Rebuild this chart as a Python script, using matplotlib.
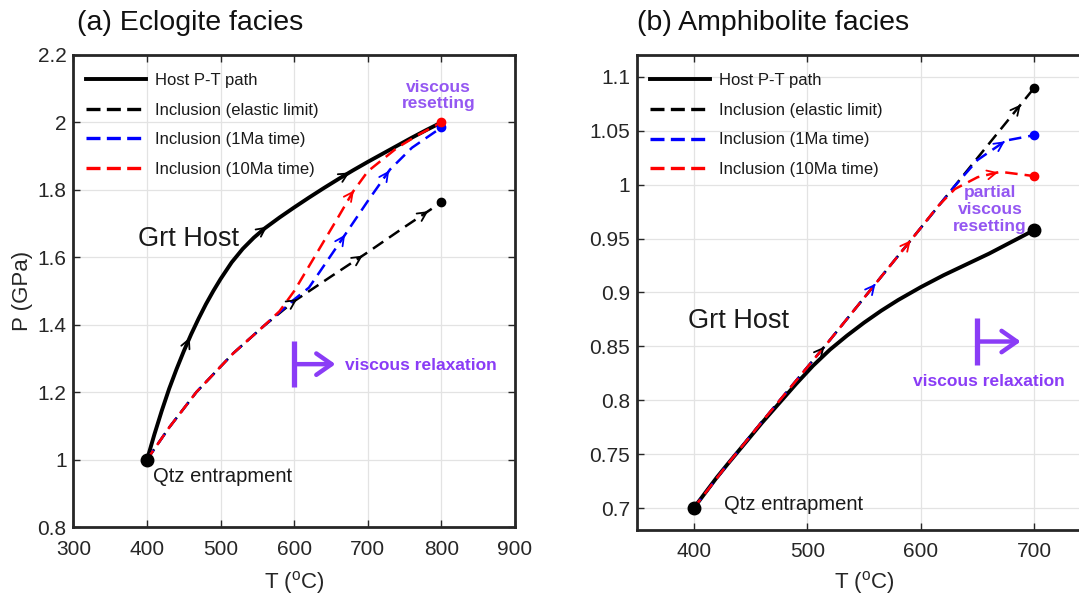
import numpy as np
import matplotlib
matplotlib.use("Agg")
import matplotlib.pyplot as plt
from matplotlib.lines import Line2D
from matplotlib.ticker import FuncFormatter

plt.rcParams["font.family"] = ["Liberation Sans", "DejaVu Sans"]
plt.rcParams["mathtext.fontset"] = "custom"
plt.rcParams["mathtext.rm"] = "Liberation Sans"

# ---------------- (a) eclogite facies ----------------
A_HOST_T = [400, 410, 420, 430, 440, 450, 460, 470, 480, 490, 500, 515, 530, 545, 560, 580,
            600, 620, 640, 660, 680, 700, 720, 740, 760, 780, 800]
A_HOST_P = [1.000, 1.075, 1.145, 1.210, 1.268, 1.322, 1.372, 1.418, 1.461, 1.500, 1.536,
            1.585, 1.625, 1.658, 1.686, 1.718, 1.748, 1.777, 1.805, 1.832, 1.858, 1.883,
            1.907, 1.931, 1.955, 1.978, 2.000]

A_ELASTIC_T = [400, 430, 467, 517, 558, 600, 650, 700, 750, 800]
A_ELASTIC_P = [1.000, 1.095, 1.200, 1.315, 1.395, 1.470, 1.543, 1.615, 1.690, 1.763]

A_1MA_T = [400, 430, 467, 517, 558, 600, 620, 645, 670, 700, 730, 760, 800]
A_1MA_P = [1.000, 1.095, 1.200, 1.315, 1.395, 1.475, 1.510, 1.590, 1.670, 1.767, 1.860, 1.925, 1.985]

A_10MA_T = [400, 430, 467, 517, 558, 580, 600, 630, 660, 680, 700, 740, 770, 800]
A_10MA_P = [1.000, 1.095, 1.200, 1.315, 1.395, 1.440, 1.500, 1.610, 1.720, 1.795, 1.855, 1.925,
            1.965, 2.000]

A_ARROWS = {"host": [458, 563, 675], "elastic": [604, 693, 782], "1ma": [669, 729], "10ma": [681]}

# ---------------- (b) amphibolite facies ----------------
B_HOST_T = [400, 410, 420, 430, 445, 460, 475, 490, 505, 520, 535, 550, 565, 580, 600, 620,
            640, 660, 680, 700]
B_HOST_P = [0.700, 0.714, 0.728, 0.741, 0.760, 0.779, 0.797, 0.815, 0.832, 0.847, 0.860,
            0.872, 0.883, 0.893, 0.905, 0.916, 0.926, 0.936, 0.947, 0.958]

B_ELASTIC_T = [400, 430, 460, 490, 520, 560, 600, 650, 700]
B_ELASTIC_P = [0.700, 0.741, 0.780, 0.818, 0.856, 0.908, 0.960, 1.025, 1.090]

B_1MA_T = [400, 430, 460, 490, 520, 560, 600, 630, 650, 675, 700]
B_1MA_P = [0.700, 0.741, 0.780, 0.818, 0.856, 0.908, 0.960, 0.999, 1.023, 1.041, 1.046]

B_10MA_T = [400, 430, 460, 490, 520, 560, 600, 615, 630, 650, 670, 700]
B_10MA_P = [0.700, 0.741, 0.780, 0.818, 0.856, 0.908, 0.960, 0.980, 0.996, 1.007, 1.012, 1.008]

B_ARROWS = {"host": [], "elastic": [515, 688], "1ma": [560, 674], "10ma": [591, 668]}

LABELS = ["Host P-T path", "Inclusion (elastic limit)", "Inclusion (1Ma time)", "Inclusion (10Ma time)"]
KEYS = ["host", "elastic", "1ma", "10ma"]
COLORS = {"host": "black", "elastic": "black", "1ma": "#0000ff", "10ma": "#ff0000"}
PURPLE = "#9457f2"
PURPLE_DARK = "#8a3cf6"
DASH = (5, 2.8)


def add_arrows(ax, T, P, at, color):
    for t in at:
        p = np.interp(t, T, P)
        p0 = np.interp(t - 1.0, T, P)
        ax.annotate("", xy=(t, p), xytext=(t - 1.0, p0),
                    arrowprops=dict(arrowstyle="->", color=color, lw=1.3,
                                    mutation_scale=16, shrinkA=0, shrinkB=0),
                    zorder=6)


def style_axes(ax):
    ax.grid(True, color="#e3e3e3", lw=0.9)
    ax.set_axisbelow(True)
    for s in ax.spines.values():
        s.set_color("#262626")
        s.set_linewidth(2)
    ax.tick_params(direction="in", top=True, right=True, length=5, width=1,
                   labelsize=15, colors="#262626", labelcolor="#262626")
    ax.tick_params(axis="x", pad=9)
    ax.tick_params(axis="y", pad=5)
    ax.yaxis.set_major_formatter(FuncFormatter(lambda v, _: f"{v:g}"))


def draw_paths(ax, series, arrows):
    host, elastic, ma1, ma10 = series
    ax.plot(*host, color="black", lw=2.8, zorder=3, solid_capstyle="round")
    # slightly shifted dash phases so the shared early segment shows all three colours
    for (T, P), key, off in [(elastic, "elastic", 0), (ma1, "1ma", 0.35), (ma10, "10ma", 0.7)]:
        ax.plot(T, P, color=COLORS[key], lw=1.8, zorder=4, dash_capstyle="butt",
                linestyle=(off, DASH))
    for (T, P), key in zip(series, KEYS):
        add_arrows(ax, T, P, arrows[key], COLORS[key])


def add_legend(ax, y_top):
    handles = [Line2D([], [], color="black", lw=2.8)]
    for key in KEYS[1:]:
        handles.append(Line2D([], [], color=COLORS[key], lw=2.4, dash_capstyle="butt",
                              linestyle=(0, (4.2, 1.9))))
    leg = ax.legend(handles, LABELS, loc="upper left", bbox_to_anchor=(0.028, y_top),
                    frameon=False, fontsize=12, handlelength=3.6, handletextpad=0.55,
                    labelspacing=0.88, borderaxespad=0, borderpad=0)
    for t in leg.get_texts():
        t.set_color("#1a1a1a")


def add_relaxation_marker(ax, t0, p_lo, p_hi, t_tip):
    p_mid = 0.5 * (p_lo + p_hi)
    ax.plot([t0, t0], [p_lo, p_hi], color=PURPLE_DARK, lw=3.8, solid_capstyle="butt", zorder=5)
    ax.annotate("", xy=(t_tip, p_mid), xytext=(t0, p_mid),
                arrowprops=dict(arrowstyle="->,head_length=0.5,head_width=0.35", color=PURPLE_DARK,
                                lw=3.2, mutation_scale=22, shrinkA=0, shrinkB=0))


fig = plt.figure(figsize=(10.79, 5.99), dpi=100)

# ---- panel (a)
ax1 = fig.add_axes([0.0681, 0.1202, 0.4092, 0.7880])
style_axes(ax1)
ax1.set_xlim(300, 900)
ax1.set_ylim(0.8, 2.2)
ax1.set_xticks(np.arange(300, 901, 100))
ax1.set_yticks(np.arange(0.8, 2.21, 0.2))
draw_paths(ax1, [(A_HOST_T, A_HOST_P), (A_ELASTIC_T, A_ELASTIC_P),
                 (A_1MA_T, A_1MA_P), (A_10MA_T, A_10MA_P)], A_ARROWS)
ax1.plot(A_HOST_T[0], A_HOST_P[0], "o", color="black", ms=9, zorder=7)
ax1.plot(A_ELASTIC_T[-1], A_ELASTIC_P[-1], "o", color="black", ms=6, zorder=7)
ax1.plot(A_1MA_T[-1], A_1MA_P[-1], "o", color="#0000ff", ms=6, zorder=7)
ax1.plot(A_10MA_T[-1], A_10MA_P[-1], "o", color="#ff0000", ms=6, zorder=8)
add_legend(ax1, 0.962)

ax1.text(388, 1.653, "Grt Host", fontsize=19.5, va="center", ha="left", color="#1a1a1a")
ax1.text(408, 0.951, "Qtz entrapment", fontsize=14.5, va="center", ha="left", color="#1a1a1a")
ax1.text(796, 2.08, "viscous\nresetting", fontsize=12.5, fontweight="bold", color=PURPLE,
         ha="center", va="center", linespacing=1.15)
add_relaxation_marker(ax1, 600, 1.215, 1.351, 656)
ax1.text(669, 1.279, "viscous relaxation", fontsize=12.5, fontweight="bold", color=PURPLE_DARK,
         ha="left", va="center")

ax1.set_xlabel(r"T ($^{\mathrm{o}}$C)", fontsize=16, color="#262626")
ax1.set_ylabel("P (GPa)", fontsize=16, color="#262626")
ax1.xaxis.set_label_coords(0.5, -0.09)
ax1.yaxis.set_label_coords(-0.092, 0.5)
fig.text(77 / 1079, 1 - 23 / 599, "(a) Eclogite facies", fontsize=20.5, va="center", ha="left",
         color="#111111")

# ---- panel (b)
ax2 = fig.add_axes([0.5904, 0.1152, 0.4208, 0.7930])
style_axes(ax2)
ax2.set_xlim(350, 750)
ax2.set_ylim(0.6796, 1.1204)
ax2.set_xticks(np.arange(400, 701, 100))
ax2.set_yticks(np.arange(0.7, 1.101, 0.05))
draw_paths(ax2, [(B_HOST_T, B_HOST_P), (B_ELASTIC_T, B_ELASTIC_P),
                 (B_1MA_T, B_1MA_P), (B_10MA_T, B_10MA_P)], B_ARROWS)
ax2.plot(B_HOST_T[0], B_HOST_P[0], "o", color="black", ms=9, zorder=7)
ax2.plot(B_HOST_T[-1], B_HOST_P[-1], "o", color="black", ms=9, zorder=7)
ax2.plot(B_ELASTIC_T[-1], B_ELASTIC_P[-1], "o", color="black", ms=6, zorder=7)
ax2.plot(B_1MA_T[-1], B_1MA_P[-1], "o", color="#0000ff", ms=6, zorder=7)
ax2.plot(B_10MA_T[-1], B_10MA_P[-1], "o", color="#ff0000", ms=6, zorder=7)
add_legend(ax2, 0.962)

ax2.text(395, 0.874, "Grt Host", fontsize=19.5, va="center", ha="left", color="#1a1a1a")
ax2.text(427, 0.703, "Qtz entrapment", fontsize=14.5, va="center", ha="left", color="#1a1a1a")
ax2.text(661, 0.977, "partial\nviscous\nresetting", fontsize=12.5, fontweight="bold", color=PURPLE,
         ha="center", va="center", linespacing=1.15)
add_relaxation_marker(ax2, 649.6, 0.833, 0.876, 688)
ax2.text(660, 0.817, "viscous relaxation", fontsize=12.5, fontweight="bold", color=PURPLE_DARK,
         ha="center", va="center")

ax2.set_xlabel(r"T ($^{\mathrm{o}}$C)", fontsize=16, color="#262626")
ax2.xaxis.set_label_coords(0.5, -0.082)
fig.text(637 / 1079, 1 - 23 / 599, "(b) Amphibolite facies", fontsize=20.5, va="center", ha="left",
         color="#111111")

fig.savefig("out.png", dpi=100)
